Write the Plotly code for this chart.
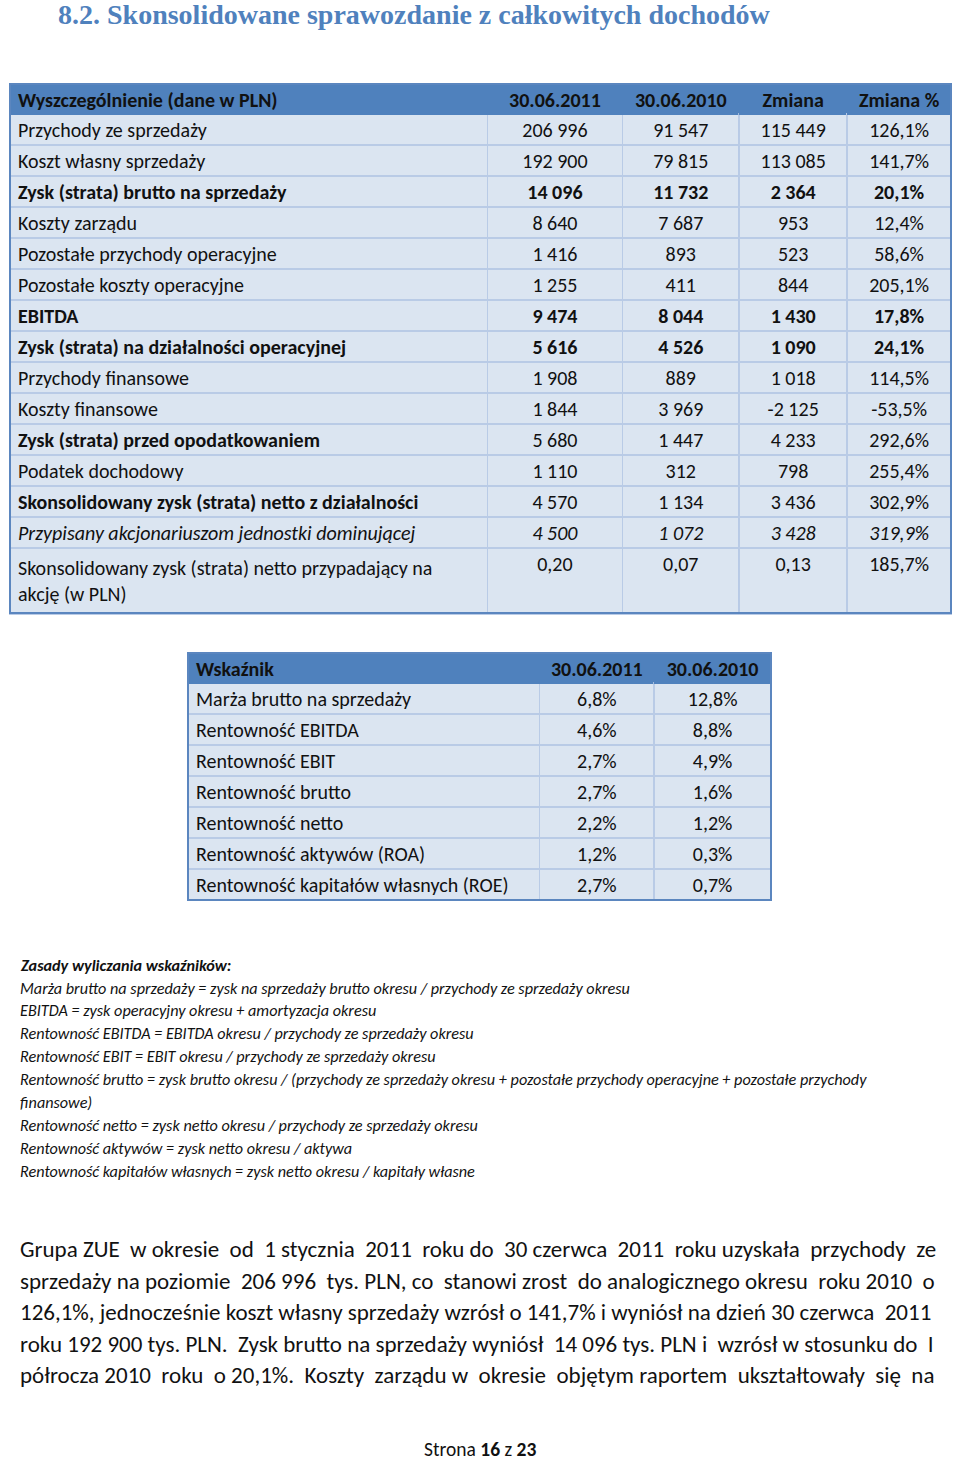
import plotly.graph_objects as go

W, H = 960, 1459
FONT = "Carlito, Calibri, Lato, sans-serif"

# ---------------- data: table 1 ----------------
headers1 = ["Wyszczególnienie (dane w PLN)", "30.06.2011", "30.06.2010", "Zmiana", "Zmiana %"]
items1 = [
    "Przychody ze sprzedaży",
    "Koszt własny sprzedaży",
    "Zysk (strata) brutto na sprzedaży",
    "Koszty zarządu",
    "Pozostałe przychody operacyjne",
    "Pozostałe koszty operacyjne",
    "EBITDA",
    "Zysk (strata) na działalności operacyjnej",
    "Przychody finansowe",
    "Koszty finansowe",
    "Zysk (strata) przed opodatkowaniem",
    "Podatek dochodowy",
    "Skonsolidowany zysk (strata) netto z działalności",
    "Przypisany akcjonariuszom jednostki dominującej",
    "Skonsolidowany zysk (strata) netto przypadający na<br>akcję (w PLN)",
]
val_2011 = [206996, 192900, 14096, 8640, 1416, 1255, 9474, 5616, 1908, 1844, 5680, 1110, 4570, 4500, 0.20]
val_2010 = [91547, 79815, 11732, 7687, 893, 411, 8044, 4526, 889, 3969, 1447, 312, 1134, 1072, 0.07]
change = [115449, 113085, 2364, 953, 523, 844, 1430, 1090, 1018, -2125, 4233, 798, 3436, 3428, 0.13]
change_pct = [126.1, 141.7, 20.1, 12.4, 58.6, 205.1, 17.8, 24.1, 114.5, -53.5, 292.6, 255.4, 302.9, 319.9, 185.7]
bold_rows = [2, 6, 7]                 # whole row bold
bold_label_rows = [2, 6, 7, 10, 12]   # label bold
italic_rows = [13]                    # whole row italic

# ---------------- data: table 2 ----------------
headers2 = ["Wskaźnik", "30.06.2011", "30.06.2010"]
items2 = [
    "Marża brutto na sprzedaży",
    "Rentowność EBITDA",
    "Rentowność EBIT",
    "Rentowność brutto",
    "Rentowność netto",
    "Rentowność aktywów (ROA)",
    "Rentowność kapitałów własnych (ROE)",
]
ratio_2011 = [6.8, 4.6, 2.7, 2.7, 2.2, 1.2, 2.7]
ratio_2010 = [12.8, 8.8, 4.9, 1.6, 1.2, 0.3, 0.7]

notes_title = "Zasady wyliczania wskaźników:"
notes = [
    "Marża brutto na sprzedaży = zysk na sprzedaży brutto okresu / przychody ze sprzedaży okresu",
    "EBITDA = zysk operacyjny okresu + amortyzacja okresu",
    "Rentowność EBITDA = EBITDA okresu / przychody ze sprzedaży okresu",
    "Rentowność EBIT = EBIT okresu / przychody ze sprzedaży okresu",
    "Rentowność brutto = zysk brutto okresu / (przychody ze sprzedaży okresu + pozostałe przychody operacyjne + pozostałe przychody",
    "finansowe)",
    "Rentowność netto = zysk netto okresu / przychody ze sprzedaży okresu",
    "Rentowność aktywów = zysk netto okresu / aktywa",
    "Rentowność kapitałów własnych = zysk netto okresu / kapitały własne",
]
paragraph = [
    "Grupa ZUE w okresie od 1 stycznia 2011 roku do 30 czerwca 2011 roku uzyskała przychody ze",
    "sprzedaży na poziomie 206 996 tys. PLN, co stanowi zrost do analogicznego okresu roku 2010 o",
    "126,1%, jednocześnie koszt własny sprzedaży wzrósł o 141,7% i wyniósł na dzień 30 czerwca 2011",
    "roku 192 900 tys. PLN. Zysk brutto na sprzedaży wyniósł 14 096 tys. PLN i wzrósł w stosunku do I",
    "półrocza 2010 roku o 20,1%. Koszty zarządu w okresie objętym raportem ukształtowały się na",
]
# layout only: extra non-breaking spaces used to imitate the justified paragraph
para_extra_spaces = [10, 6, 1, 4, 9]
title = "8.2. Skonsolidowane sprawozdanie z całkowitych dochodów"
footer = "Strona <b>16</b> z <b>23</b>"


def fmt_num(v):
    if isinstance(v, float) and abs(v) < 10:
        return f"{v:.2f}".replace(".", ",")
    s = f"{abs(int(v)):,}".replace(",", " ")
    return ("-" if v < 0 else "") + s


def fmt_pct(v):
    return f"{v:.1f}".replace(".", ",") + "%"


def justify(line, extra):
    words = line.split(" ")
    gaps = len(words) - 1
    out = words[0]
    for g in range(gaps):
        k = ((g + 1) * extra) // gaps - (g * extra) // gaps
        out += " " + "\u00a0" * k + words[g + 1]
    return out


n = len(items1)
value_cols = [[fmt_num(v) for v in val_2011], [fmt_num(v) for v in val_2010],
              [fmt_num(v) for v in change], [fmt_pct(v) for v in change_pct]]


def pick(col, keep):
    return [t if keep(i) else "" for i, t in enumerate(col)]


plain_cells = [pick(items1, lambda i: i not in bold_label_rows and i not in italic_rows)] + \
              [pick(c, lambda i: i not in bold_rows and i not in italic_rows) for c in value_cols]
bold_cells = [pick(items1, lambda i: i in bold_label_rows)] + \
             [pick(c, lambda i: i in bold_rows) for c in value_cols]
italic_cells = [pick(items1, lambda i: i in italic_rows)] + \
               [pick(c, lambda i: i in italic_rows) for c in value_cols]

HEAD_FILL = "#4f81bd"
ROW_FILL = "#dbe5f1"
LINE = "#b9cbe6"
BORDER = "#5b86bf"
NONE = "rgba(0,0,0,0)"
TXT = "#111111"
FS = 20


def px_x(x):
    return x / W


def px_y(y):
    return 1 - y / H


fig = go.Figure()

t1 = dict(x0=10, x1=951, y0=84, y1=613)
dom1 = dict(x=[px_x(t1["x0"]), px_x(t1["x1"])], y=[px_y(t1["y1"] + 4), px_y(t1["y0"])])
widths1 = [478, 135, 117, 108, 104]
align1 = ["left", "center", "center", "center", "center"]

layers = [
    (plain_cells, headers1, HEAD_FILL, ROW_FILL, LINE, "normal", "normal"),
    (bold_cells, [""] * 5, NONE, NONE, NONE, "bold", "normal"),
    (italic_cells, [""] * 5, NONE, NONE, NONE, "normal", "italic"),
]
for cells, heads, hfill, cfill, lcol, weight, fstyle in layers:
    fig.add_trace(go.Table(
        domain=dom1,
        columnwidth=widths1,
        header=dict(
            values=heads,
            fill_color=hfill,
            line=dict(color=NONE if hfill == NONE else HEAD_FILL, width=1),
            align=align1,
            font=dict(family=FONT, size=FS, color=TXT, weight="bold"),
            height=30,
        ),
        cells=dict(
            values=cells,
            fill_color=cfill,
            line=dict(color=lcol, width=1.5),
            align=align1,
            font=dict(family=FONT, size=FS, color=TXT, weight=weight, style=fstyle),
            height=31,
        ),
    ))

t2 = dict(x0=188, x1=771, y0=653, y1=900)
fig.add_trace(go.Table(
    domain=dict(x=[px_x(t2["x0"]), px_x(t2["x1"])], y=[px_y(t2["y1"] + 4), px_y(t2["y0"])]),
    columnwidth=[352, 115, 117],
    header=dict(
        values=headers2,
        fill_color=HEAD_FILL,
        line=dict(color=HEAD_FILL, width=1),
        align=["left", "center", "center"],
        font=dict(family=FONT, size=FS, color=TXT, weight="bold"),
        height=30,
    ),
    cells=dict(
        values=[items2, [fmt_pct(v) for v in ratio_2011], [fmt_pct(v) for v in ratio_2010]],
        fill_color=ROW_FILL,
        line=dict(color=LINE, width=1.5),
        align=["left", "center", "center"],
        font=dict(family=FONT, size=FS, color=TXT),
        height=31,
    ),
))

# outer borders of the tables
for t in (t1, t2):
    fig.add_shape(type="rect", xref="paper", yref="paper",
                  x0=px_x(t["x0"]), x1=px_x(t["x1"]), y0=px_y(t["y1"]), y1=px_y(t["y0"]),
                  line=dict(color=BORDER, width=2), fillcolor=NONE)

ann = []
ann.append(dict(text=f"<b>{title}</b>", x=px_x(56), y=px_y(15), xanchor="left", yanchor="middle",
                font=dict(family="Liberation Serif, DejaVu Serif, serif", size=28, color="#4f81bd")))
ann.append(dict(text=f"<b><i>{notes_title}</i></b>", x=px_x(18), y=px_y(965), xanchor="left", yanchor="middle",
                font=dict(family=FONT, size=16.2, color=TXT)))
for i, line in enumerate(notes):
    ann.append(dict(text=f"<i>{line}</i>", x=px_x(18), y=px_y(988 + 22.9 * i), xanchor="left", yanchor="middle",
                    font=dict(family=FONT, size=16.2, color=TXT)))
for i, line in enumerate(paragraph):
    ann.append(dict(text=justify(line, para_extra_spaces[i]), x=px_x(18), y=px_y(1249 + 31.5 * i),
                    xanchor="left", yanchor="middle",
                    font=dict(family=FONT, size=23, color=TXT)))
ann.append(dict(text=footer, x=0.5, y=px_y(1449), xanchor="center", yanchor="middle",
                font=dict(family=FONT, size=19.5, color=TXT)))
for a in ann:
    a.update(xref="paper", yref="paper", showarrow=False, align="left")

fig.update_layout(width=W, height=H, margin=dict(l=0, r=0, t=0, b=0),
                  paper_bgcolor="white", plot_bgcolor="white", annotations=ann)

fig.write_html("out.html", config={"displayModeBar": False},
               post_script="document.body.style.margin='0px';")
